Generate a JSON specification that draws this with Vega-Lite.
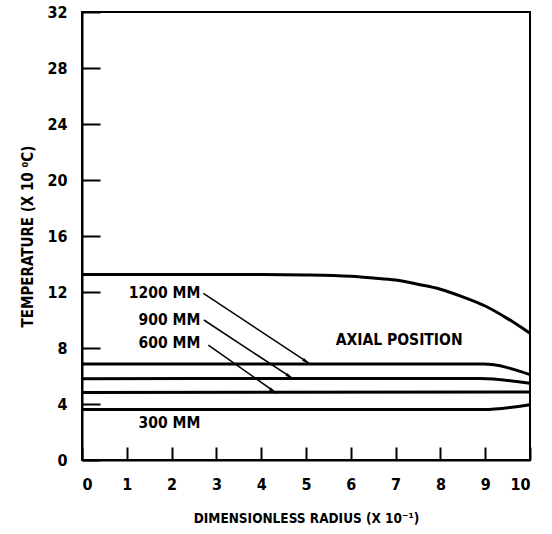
{
  "$schema": "https://vega.github.io/schema/vega-lite/v6.json",
  "width": 448,
  "height": 448,
  "autosize": {"type": "none"},
  "padding": {"left": 82, "top": 12, "right": 22, "bottom": 74},
  "background": "white",
  "config": {
    "view": {"stroke": "black", "strokeWidth": 2},
    "font": "DejaVu Sans Condensed, sans-serif",
    "axis": {
      "grid": false,
      "domainColor": "black",
      "domainWidth": 2,
      "tickColor": "black",
      "tickWidth": 2,
      "labelColor": "black",
      "labelFontSize": 16,
      "labelFontWeight": "bold",
      "titleColor": "black",
      "titleFontSize": 15,
      "titleFontWeight": "bold",
      "labelFont": "DejaVu Sans Condensed, sans-serif",
      "titleFont": "DejaVu Sans Condensed, sans-serif"
    }
  },
  "datasets": {
    "curves": [
      {"series": "top", "r": 0, "t": 13.25},
      {"series": "top", "r": 1, "t": 13.25},
      {"series": "top", "r": 2, "t": 13.25},
      {"series": "top", "r": 3, "t": 13.25},
      {"series": "top", "r": 4, "t": 13.25},
      {"series": "top", "r": 5, "t": 13.22},
      {"series": "top", "r": 6, "t": 13.12},
      {"series": "top", "r": 6.5, "t": 13.0},
      {"series": "top", "r": 7, "t": 12.85},
      {"series": "top", "r": 7.5, "t": 12.55},
      {"series": "top", "r": 8, "t": 12.2},
      {"series": "top", "r": 8.5, "t": 11.65},
      {"series": "top", "r": 9, "t": 11.0},
      {"series": "top", "r": 9.5, "t": 10.1},
      {"series": "top", "r": 10, "t": 9.05},
      {"series": "1200 MM", "r": 0, "t": 6.85},
      {"series": "1200 MM", "r": 8.95, "t": 6.85},
      {"series": "1200 MM", "r": 10, "t": 6.1},
      {"series": "900 MM", "r": 0, "t": 5.8},
      {"series": "900 MM", "r": 5.5, "t": 5.82},
      {"series": "900 MM", "r": 8.9, "t": 5.82},
      {"series": "900 MM", "r": 10, "t": 5.48},
      {"series": "600 MM", "r": 0, "t": 4.82},
      {"series": "600 MM", "r": 10, "t": 4.85},
      {"series": "300 MM", "r": 0, "t": 3.6},
      {"series": "300 MM", "r": 8.95, "t": 3.6},
      {"series": "300 MM", "r": 10, "t": 3.95}
    ],
    "labels": [
      {"label": "1200 MM", "r": 2.64, "t": 11.9},
      {"label": "900 MM", "r": 2.64, "t": 10.0},
      {"label": "600 MM", "r": 2.64, "t": 8.33},
      {"label": "300 MM", "r": 2.64, "t": 2.62}
    ],
    "note": [
      {"label": "AXIAL POSITION", "r": 7.08, "t": 8.57}
    ],
    "arrows": [
      {"r": 2.71, "t": 11.9, "r2": 5.09, "t2": 6.86},
      {"r": 2.72, "t": 10.0, "r2": 4.72, "t2": 5.79},
      {"r": 2.82, "t": 8.21, "r2": 4.35, "t2": 4.76}
    ],
    "heads": [
      {"r": 4.98, "t": 7.08},
      {"r": 4.61, "t": 6.01},
      {"r": 4.24, "t": 4.98}
    ]
  },
  "layer": [
    {
      "data": {"name": "curves"},
      "mark": {"type": "line", "color": "black", "strokeWidth": 3, "interpolate": "monotone"},
      "encoding": {
        "x": {
          "field": "r", "type": "quantitative",
          "scale": {"domain": [0, 10], "nice": false},
          "axis": {
            "values": [0, 1, 2, 3, 4, 5, 6, 7, 8, 9, 10],
            "tickSize": -13,
            "labelPadding": 29,
            "title": "DIMENSIONLESS RADIUS (X 10⁻¹)",
            "titleFontSize": 13.5,
            "titlePadding": 19
          }
        },
        "y": {
          "field": "t", "type": "quantitative",
          "scale": {"domain": [0, 32], "nice": false},
          "axis": {
            "values": [0, 4, 8, 12, 16, 20, 24, 28, 32],
            "tickSize": -18,
            "labelPadding": 33,
            "title": "TEMPERATURE (X 10 ⁰C)",
            "titlePadding": 11
          }
        },
        "detail": {"field": "series"}
      }
    },
    {
      "data": {"name": "arrows"},
      "mark": {"type": "rule", "color": "black", "strokeWidth": 1.5},
      "encoding": {
        "x": {"field": "r", "type": "quantitative"},
        "y": {"field": "t", "type": "quantitative"},
        "x2": {"field": "r2"},
        "y2": {"field": "t2"}
      }
    },
    {
      "data": {"name": "heads"},
      "mark": {"type": "point", "shape": "M0,-1.4L0.4,0.6L-0.4,0.6Z", "filled": true, "color": "black", "opacity": 1, "size": 70, "angle": 124},
      "encoding": {
        "x": {"field": "r", "type": "quantitative"},
        "y": {"field": "t", "type": "quantitative"}
      }
    },
    {
      "data": {"name": "labels"},
      "mark": {"type": "text", "align": "right", "baseline": "middle", "fontSize": 15.5, "fontWeight": "bold", "color": "black"},
      "encoding": {
        "x": {"field": "r", "type": "quantitative"},
        "y": {"field": "t", "type": "quantitative"},
        "text": {"field": "label"}
      }
    },
    {
      "data": {"name": "note"},
      "mark": {"type": "text", "align": "center", "baseline": "middle", "fontSize": 15.5, "fontWeight": "bold", "color": "black"},
      "encoding": {
        "x": {"field": "r", "type": "quantitative"},
        "y": {"field": "t", "type": "quantitative"},
        "text": {"field": "label"}
      }
    }
  ]
}
